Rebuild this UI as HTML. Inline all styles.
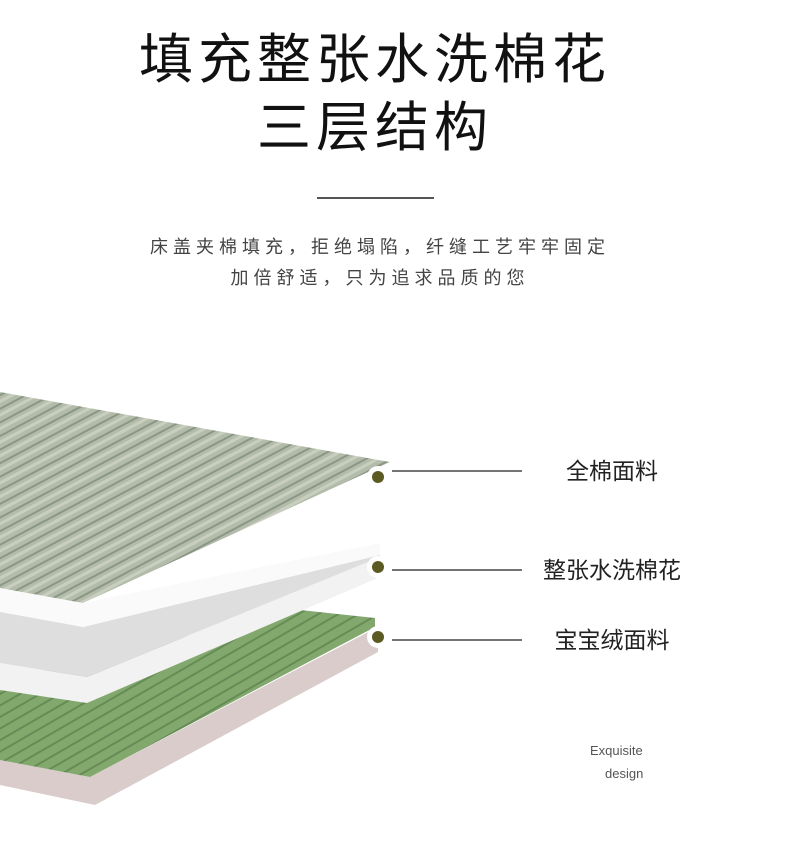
<!DOCTYPE html>
<html><head><meta charset="utf-8"><style>
html,body{margin:0;padding:0;background:#fff;}
body{width:790px;height:845px;position:relative;overflow:hidden;font-family:"Liberation Sans","Noto Sans CJK SC",sans-serif;}
.t{position:absolute;left:0;width:750px;text-align:center;color:#111;font-size:54px;letter-spacing:5px;line-height:1;white-space:nowrap;}
.s{position:absolute;left:0;width:760px;text-align:center;color:#444;font-size:18px;letter-spacing:5px;white-space:nowrap;line-height:1;}
.lab{position:absolute;left:512px;width:200px;text-align:center;font-size:23px;color:#222;line-height:1;white-space:nowrap;}
.en{position:absolute;font-size:13px;color:#555;}
</style></head><body>
<div class="t" style="top:33px">填充整张水洗棉花</div>
<div class="t" style="top:101px">三层结构</div>
<div style="position:absolute;left:317px;top:197px;width:117px;height:2px;background:#555"></div>
<div class="s" style="top:238px">床盖夹棉填充，拒绝塌陷，纤缝工艺牢牢固定</div>
<div class="s" style="top:269px">加倍舒适，只为追求品质的您</div>

<svg style="position:absolute;left:0;top:0" width="790" height="845">
<defs>
<pattern id="st" width="12" height="12" patternUnits="userSpaceOnUse" patternTransform="rotate(62)">
<rect width="12" height="12" fill="#b3bcaa"/><rect width="2" height="12" fill="#8b9684"/><rect x="5" width="3" height="12" fill="#c8cfbf"/>
</pattern>
<pattern id="gr" width="10" height="10" patternUnits="userSpaceOnUse" patternTransform="rotate(60)">
<rect width="10" height="10" fill="#82a86e"/><rect width="2" height="10" fill="#668c56"/>
</pattern>
</defs>
<polygon points="0,785 95,805 378,652 378,627 90,777 0,760" fill="#d9cccb"/>
<polygon points="0,680 300,610 375,618 375,627 90,777 0,760" fill="url(#gr)"/>
<polygon points="0,663 87,677 380,557 380,577 87,703 0,690" fill="#f2f2f2"/>
<polygon points="0,610 83,627 380,555 380,557 87,677 0,663" fill="#dedede"/>
<polygon points="0,588 83,603 380,543 380,555 83,627 0,612" fill="#fafafa"/>
<polygon points="0,392 390,462 83,603 0,588" fill="url(#st)"/>
<g fill="#fff"><circle cx="378" cy="477" r="11"/><circle cx="378" cy="567" r="11"/><circle cx="378" cy="637" r="11"/></g>
<g fill="#5b5a22"><circle cx="378" cy="477" r="6"/><circle cx="378" cy="567" r="6"/><circle cx="378" cy="637" r="6"/></g>
<g stroke="#222" stroke-width="1.3"><line x1="392" y1="471" x2="522" y2="471"/><line x1="392" y1="570" x2="522" y2="570"/><line x1="392" y1="640" x2="522" y2="640"/></g>
</svg>
<div class="lab" style="top:460px">全棉面料</div>
<div class="lab" style="top:559px">整张水洗棉花</div>
<div class="lab" style="top:629px">宝宝绒面料</div>
<div class="en" style="left:590px;top:743px">Exquisite</div>
<div class="en" style="left:605px;top:766px">design</div>
</body></html>
